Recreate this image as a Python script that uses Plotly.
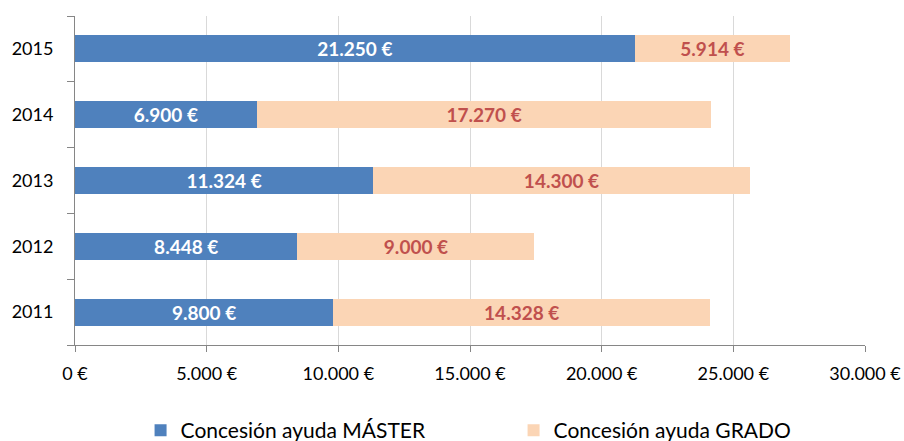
import plotly.graph_objects as go

years = ["2011", "2012", "2013", "2014", "2015"]
master = [9800, 8448, 11324, 6900, 21250]
grado = [14328, 9000, 14300, 17270, 5914]
tick_vals = [0, 5000, 10000, 15000, 20000, 25000, 30000]
tick_text = ["0 €", "5.000 €", "10.000 €", "15.000 €", "20.000 €", "25.000 €", "30.000 €"]


def eur(v):
    return f"{v:,}".replace(",", ".") + " €"


FONT = "Lato"

fig = go.Figure()
fig.add_trace(go.Bar(
    y=years, x=master, orientation="h", name="Concesión ayuda MÁSTER",
    marker=dict(color="#4F81BD", line=dict(width=0)),
    text=[eur(v) for v in master], textposition="inside", insidetextanchor="middle",
    constraintext="none",
    textfont=dict(family=FONT, size=19, color="white", weight="bold"),
    textangle=0, hoverinfo="skip",
))
fig.add_trace(go.Bar(
    y=years, x=grado, orientation="h", name="Concesión ayuda GRADO",
    marker=dict(color="#FBD5B5", line=dict(width=0)),
    text=[eur(v) for v in grado], textposition="inside", insidetextanchor="middle",
    constraintext="none",
    textfont=dict(family=FONT, size=19, color="#C0504D", weight="bold"),
    textangle=0, hoverinfo="skip",
))

fig.update_layout(
    barmode="stack",
    bargap=0.59,
    width=904, height=441,
    margin=dict(l=75, r=39, t=16, b=96, autoexpand=False),
    paper_bgcolor="white", plot_bgcolor="white",
    font=dict(family=FONT, size=18, color="black"),
    legend=dict(
        orientation="h", xref="container", yref="paper",
        x=0.1555, xanchor="left", y=-0.198, yanchor="top",
        entrywidth=328, entrywidthmode="pixels", traceorder="normal",
        font=dict(family=FONT, size=21, color="black"),
        itemclick=False, itemdoubleclick=False,
    ),
    showlegend=True,
)
fig.update_xaxes(
    range=[0, 30000], tickvals=tick_vals, ticktext=tick_text,
    showgrid=True, gridcolor="#D9D9D9", gridwidth=1,
    showline=True, linecolor="#868686", linewidth=1,
    ticks="outside", ticklen=6, tickcolor="#868686",
    tickfont=dict(family=FONT, size=18, color="black"),
    zeroline=False, fixedrange=True, automargin=False, ticklabelstandoff=6,
)
fig.update_yaxes(
    categoryorder="array", categoryarray=years,
    showline=True, linecolor="#868686", linewidth=1,
    ticks="outside", ticklen=7, tickcolor="#868686", tickson="boundaries",
    tickfont=dict(family=FONT, size=18, color="black"),
    showgrid=False, fixedrange=True, ticklabelstandoff=17, automargin=False,
)

fig.write_html(
    "out.html",
    config={"displayModeBar": False},
    post_script="document.body.style.margin='0';document.body.style.overflow='hidden';",
)
